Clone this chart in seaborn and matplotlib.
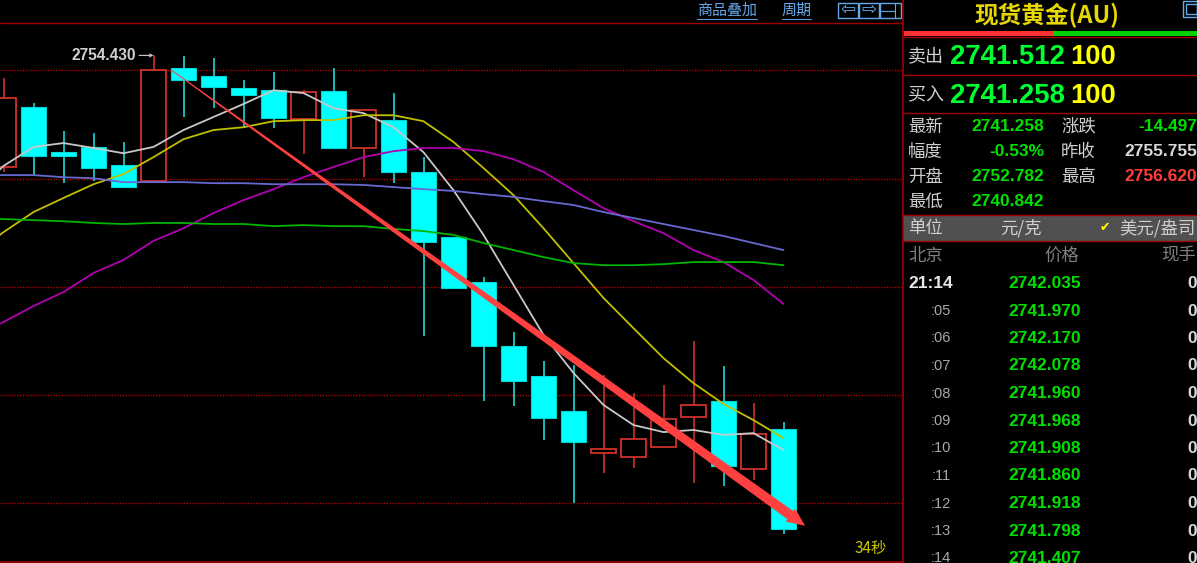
import numpy as np
import pandas as pd
import matplotlib
matplotlib.use("Agg")
import matplotlib.pyplot as plt
import seaborn as sns
from matplotlib.patches import Polygon, Rectangle

opens = [2751.26, 2752.96, 2751.68, 2751.83, 2751.31, 2750.86, 2754.07, 2753.84, 2753.50,
         2753.44, 2752.62, 2753.42, 2751.80, 2752.59, 2751.12, 2749.27, 2747.99, 2746.17,
         2745.32, 2744.33, 2743.13, 2743.02, 2743.31, 2744.16, 2744.61, 2742.68, 2743.82]
closes = [2753.22, 2751.57, 2751.57, 2751.23, 2750.69, 2754.01, 2753.73, 2753.53, 2753.30,
          2752.65, 2753.39, 2751.80, 2752.88, 2751.12, 2749.13, 2747.82, 2746.17, 2745.18,
          2744.13, 2743.45, 2743.25, 2743.53, 2744.10, 2744.50, 2742.77, 2743.67, 2740.98]
highs = [2753.78, 2753.07, 2752.28, 2752.22, 2751.97, 2754.43, 2754.41, 2754.35, 2753.73,
         2753.96, 2753.44, 2754.07, 2752.88, 2753.36, 2751.54, 2749.27, 2748.13, 2746.57,
         2745.75, 2745.63, 2745.35, 2744.84, 2745.07, 2746.32, 2745.61, 2744.55, 2744.02]
lows = [2751.12, 2751.03, 2750.80, 2750.86, 2750.69, 2750.86, 2752.68, 2752.93, 2752.36,
        2752.36, 2751.63, 2751.80, 2750.97, 2750.80, 2746.46, 2747.82, 2744.61, 2744.47,
        2743.50, 2741.71, 2742.57, 2742.71, 2743.31, 2742.28, 2742.20, 2742.37, 2740.84]

# moving averages start one bar earlier, that bar is off the left edge
ma_white = [2750.46, 2751.29, 2751.83, 2751.94, 2751.80, 2751.65, 2751.83, 2752.31, 2752.68,
            2753.05, 2753.44, 2753.36, 2752.93, 2752.79, 2752.39, 2751.68, 2750.60, 2749.33,
            2747.91, 2746.49, 2745.41, 2744.50, 2743.93, 2743.73, 2743.79, 2743.65, 2743.70, 2743.22]
ma_yellow = [2748.76, 2749.41, 2749.98, 2750.38, 2750.77, 2751.06, 2751.54, 2752.05, 2752.31,
             2752.39, 2752.56, 2752.59, 2752.59, 2752.73, 2752.73, 2752.56, 2751.97, 2751.23,
             2750.46, 2749.52, 2748.53, 2747.54, 2746.68, 2745.83, 2745.12, 2744.53, 2744.07, 2743.56]
ma_purple = [2746.43, 2746.86, 2747.31, 2747.71, 2748.25, 2748.62, 2749.16, 2749.52, 2749.95,
             2750.32, 2750.63, 2750.97, 2751.26, 2751.54, 2751.71, 2751.80, 2751.80, 2751.71,
             2751.48, 2751.12, 2750.60, 2750.09, 2749.72, 2749.38, 2748.90, 2748.56, 2748.05, 2747.37]
ma_blue = [2751.03, 2751.03, 2751.03, 2750.97, 2750.94, 2750.83, 2750.83, 2750.83, 2750.80,
           2750.80, 2750.77, 2750.77, 2750.77, 2750.75, 2750.69, 2750.63, 2750.58, 2750.49,
           2750.41, 2750.29, 2750.18, 2749.98, 2749.81, 2749.64, 2749.47, 2749.30, 2749.10, 2748.90]
ma_green = [2749.81, 2749.78, 2749.75, 2749.72, 2749.67, 2749.64, 2749.67, 2749.67, 2749.64,
            2749.64, 2749.58, 2749.61, 2749.58, 2749.58, 2749.50, 2749.44, 2749.33, 2749.10,
            2748.90, 2748.70, 2748.53, 2748.47, 2748.47, 2748.50, 2748.56, 2748.56, 2748.56, 2748.47]
grid_prices = [2754.01, 2750.92, 2747.85, 2744.78, 2741.71]

quote_rows = [("最新", "2741.258", "#00e000", "涨跌", "-14.497", "#00e000"),
              ("幅度", "-0.53%", "#00e000", "昨收", "2755.755", "#d8d8d8"),
              ("开盘", "2752.782", "#00e000", "最高", "2756.620", "#ff3c3c"),
              ("最低", "2740.842", "#00e000", "", "", "#d8d8d8")]
tick_times = ["21:14", ":05", ":06", ":07", ":08", ":09", ":10", ":11", ":12", ":13", ":14"]
tick_prices = ["2742.035", "2741.970", "2742.170", "2742.078", "2741.960", "2741.968",
               "2741.908", "2741.860", "2741.918", "2741.798", "2741.407"]

CJK = ["Noto Sans CJK SC", "DejaVu Sans"]
NUM = ["Liberation Sans", "DejaVu Sans"]
W, H = 1197, 563
RED = "#d0302c"
CYAN = "#00ffff"
DARK_RED = "#a00000"
BLUE = "#64a8e8"

sns.set_theme(style="dark", rc={"figure.facecolor": "black", "axes.facecolor": "black"})
plt.rcParams["font.family"] = CJK

fig = plt.figure(figsize=(W / 100, H / 100), dpi=100, facecolor="black")
ax = fig.add_axes([0, 1 / H, 902 / W, 539 / H])

for p in grid_prices:
    ax.axhline(p, color="#b00000", lw=1.0, ls=(0, (1, 1)), zorder=1)

# candles
idx = np.arange(len(opens))
o, c, h, l = map(np.array, (opens, closes, highs, lows))
up = c > o
ax.vlines(idx[~up], l[~up], h[~up], color="#20d8d8", lw=1.2, zorder=2)
ax.vlines(idx[up], l[up], h[up], color=RED, lw=1.2, zorder=2)
ax.bar(idx[~up], (o - c)[~up], bottom=c[~up], width=0.86, color=CYAN, edgecolor="#00d8d8", lw=0.8, zorder=3)
ax.bar(idx[up], (c - o)[up], bottom=o[up], width=0.84, color="black", edgecolor=RED, lw=1.3, zorder=3)

# moving averages
ma = pd.DataFrame({"i": np.arange(-1, len(opens)), "white": ma_white, "yellow": ma_yellow, "purple": ma_purple,
                   "blue": ma_blue, "green": ma_green}).melt(id_vars="i", var_name="ma", value_name="price")
sns.lineplot(data=ma, x="i", y="price", hue="ma", legend=False, ax=ax, lw=1.3, zorder=4,
             palette={"white": "#c8c8c8", "yellow": "#c0c000", "purple": "#b000b0",
                      "blue": "#6868d0", "green": "#00b400"})
ax.set_xlim(-0.1167, 29.95)
ax.set_ylim(2740.04, 2755.35)
ax.set_axis_off()

# high label
ax.text(4.417, 2754.43, "2754.430", color="#d0d0d0", fontsize=11.2, family=NUM, fontweight="bold",
        ha="right", va="center", zorder=6)
ax.annotate("", xy=(5.0, 2754.43), xytext=(4.52, 2754.43), zorder=6,
            arrowprops=dict(arrowstyle="->", color="#d0d0d0", lw=0.8, mutation_scale=5, shrinkA=0, shrinkB=0))

# hand drawn tapered arrow, built in screen space from its two ends
start = ax.transData.transform((5.6, 2754.01))
tip = ax.transData.transform((26.72, 2741.07))
d = (tip - start) / np.linalg.norm(tip - start)
n = np.array([-d[1], d[0]])
neck = tip - d * 18
arrow = [start + n * 0.5, neck + n * 5, neck + n * 8, tip, neck - n * 8, neck - n * 5, start - n * 0.5]
fig.add_artist(Polygon(arrow, closed=True, color="#ff4040", lw=0, transform=None, zorder=8))
ax.text(29.45, 2740.41, "34秒", color="#c8c800", fontsize=11, family=CJK, ha="right", va="center", zorder=6)


def ftext(x, y, s, color="#d0d0d0", size=12.5, ha="left", family=CJK, weight="normal"):
    fig.text(x / W, 1 - (y + 1) / H, s, color=color, fontsize=size, ha=ha, va="center", family=family,
             fontweight=weight)


def hline(y, x0=903, x1=W, color=DARK_RED, lw=1.0):
    fig.add_artist(plt.Line2D([x0 / W, x1 / W], [1 - y / H, 1 - y / H], color=color, lw=lw))


def rect(x0, y0, x1, y1, color):
    fig.add_artist(Rectangle((x0 / W, 1 - y1 / H), (x1 - x0) / W, (y1 - y0) / H, color=color, lw=0,
                             transform=fig.transFigure))


def box(x0, y0, x1, y1):
    fig.add_artist(Rectangle((x0 / W, 1 - y1 / H), (x1 - x0) / W, (y1 - y0) / H, fill=False, ec=BLUE, lw=1,
                             transform=fig.transFigure))


# frame and top toolbar
hline(23, 0, 903)
fig.add_artist(plt.Line2D([902.5 / W] * 2, [0, 1], color=DARK_RED, lw=1.2))
hline(561.5, 0, 903, lw=1.2)
ftext(727, 10, "商品叠加", BLUE, 10.8, "center")
ftext(797, 10, "周期", BLUE, 10.8, "center")
hline(19, 697, 757, BLUE, 0.7)
hline(19, 782, 811, BLUE, 0.7)
for x, s in zip([848, 869], ["⇦", "⇨"]):
    box(x - 10, 3, x + 10, 18)
    ftext(x, 8.5, s, BLUE, 13, "center", ["DejaVu Sans"])
box(880, 3, 901, 18)
hline(11, 881, 895, BLUE, 0.8)
fig.add_artist(plt.Line2D([895 / W] * 2, [1 - 18 / H, 1 - 3 / H], color=BLUE, lw=0.8))
box(1183, 1, 1197, 17)
box(1186, 4, 1197, 14)

# quote panel
ftext(1047, 14, "现货黄金(AU)", "#e6d800", 17, "center", weight="bold")
rect(904, 31, 1053, 36, "#ff3030")
rect(1053, 31, W, 36, "#00d000")
for y in [37, 75, 113]:
    hline(y)
ftext(908, 55, "卖出", size=13)
ftext(908, 94, "买入", size=13)
for y, price in [(56, "2741.512"), (95, "2741.258")]:
    ftext(950, y, price, "#00ff30", 19.8, family=NUM, weight="bold")
    ftext(1070, y, "100", "#ffff00", 19.8, family=NUM, weight="bold")

for y, row in zip([126, 151, 176, 201], quote_rows):
    ftext(908, y, row[0])
    ftext(1044, y, row[1], row[2], 12.5, "right", NUM, "bold")
    ftext(1061, y, row[3])
    ftext(1197, y, row[4], row[5], 12.5, "right", NUM, "bold")

rect(903, 216, W, 241, "#505050")
hline(215)
hline(241)
ftext(908, 227, "单位")
ftext(1021, 227, "元/克", ha="center")
ftext(1105, 227, "✔", "#ffff00", 9, "center", ["DejaVu Sans"])
ftext(1196, 227, "美元/盎司", ha="right")
ftext(908, 255, "北京", "#808080")
ftext(1062, 255, "价格", "#808080", ha="center")
ftext(1196, 255, "现手", "#808080", ha="right")

for k, (t, pr) in enumerate(zip(tick_times, tick_prices)):
    y = 282.5 + 27.5 * k
    if k == 0:
        ftext(953, y, t, "#e8e8e8", 12.5, "right", NUM, "bold")
    else:
        ftext(951, y, t, "#a8a8a8", 10.5, "right", NUM)
    ftext(1081, y, pr, "#00e000", 12.5, "right", NUM, "bold")
    ftext(1197, y, "0", "#d8d8d8", 12.5, "right", NUM, "bold")

fig.savefig("out.png", dpi=100, facecolor="black")
